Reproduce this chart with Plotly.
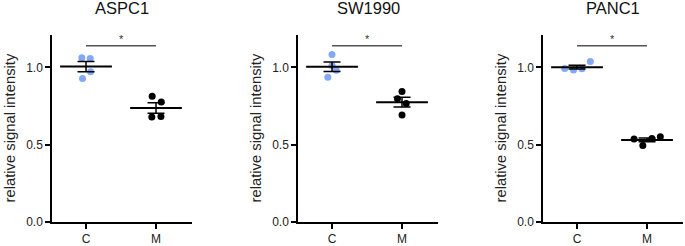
import plotly.graph_objects as go
import numpy as np

W, H = 685, 246

panels = ["ASPC1", "SW1990", "PANC1"]
groups = ["C", "M"]

# values (relative signal intensity)
aspc1_c = [1.063, 1.058, 0.972, 0.929]
aspc1_m = [0.814, 0.777, 0.680, 0.682]
sw1990_c = [1.084, 1.013, 0.982, 0.937]
sw1990_m = [0.845, 0.797, 0.767, 0.693]
panc1_c = [0.994, 0.983, 0.992, 1.039]
panc1_m = [0.537, 0.495, 0.540, 0.552]

# horizontal spread of the dots (category units)
aspc1_c_off = [-0.06, 0.06, 0.065, -0.05]
aspc1_m_off = [-0.055, 0.075, -0.06, 0.07]
sw1990_c_off = [0.0, 0.0, 0.06, -0.06]
sw1990_m_off = [0.0, -0.065, 0.06, 0.0]
panc1_c_off = [-0.175, -0.05, 0.07, 0.19]
panc1_m_off = [-0.185, -0.06, 0.07, 0.19]

data = [
    (aspc1_c, aspc1_m, aspc1_c_off, aspc1_m_off),
    (sw1990_c, sw1990_m, sw1990_c_off, sw1990_m_off),
    (panc1_c, panc1_m, panc1_c_off, panc1_m_off),
]

yticks = [0.0, 0.5, 1.0]
sig_y = 1.14
star_y = 1.185

blue = "#82A9F6"
colors = [blue, "#000000"]
font_family = "Liberation Sans, Arial, sans-serif"

# panel pixel geometry
axis_left_px = [52, 298, 543]
axis_w_px = 140
y_top_px, y_bot_px = 35, 222

fig = go.Figure()

for i, (name, (cv, mv, co, mo)) in enumerate(zip(panels, data)):
    xa = "x" if i == 0 else f"x{i+1}"
    ya = "y" if i == 0 else f"y{i+1}"
    for g, (vals, offs) in enumerate([(cv, co), (mv, mo)]):
        vals = np.array(vals)
        fig.add_trace(go.Scatter(
            x=[g + o for o in offs], y=vals, mode="markers",
            marker=dict(color=colors[g], size=7, line=dict(width=0)),
            xaxis=xa, yaxis=ya, showlegend=False, hoverinfo="y"))
        mean = vals.mean()
        sem = vals.std(ddof=1) / np.sqrt(len(vals))
        fig.add_trace(go.Scatter(
            x=[g], y=[mean], mode="markers",
            marker=dict(symbol="line-ew", size=37, color="black",
                        line=dict(width=2, color="black")),
            error_y=dict(type="data", array=[sem], visible=True,
                         color="black", thickness=1.5, width=8.5),
            xaxis=xa, yaxis=ya, showlegend=False, hoverinfo="skip"))
    # significance bracket
    fig.add_shape(type="line", x0=0, x1=1, y0=sig_y, y1=sig_y,
                  xref=xa, yref=ya, line=dict(color="#555555", width=1.5))
    fig.add_annotation(x=0.5, y=star_y, xref=xa, yref=ya, text="*",
                       showarrow=False, font=dict(size=11, color="#333333", family=font_family))

    x0 = axis_left_px[i] / W
    x1 = (axis_left_px[i] + axis_w_px) / W
    axcommon = dict(showline=True, linecolor="black", linewidth=1.5,
                    ticks="outside", ticklen=5, tickwidth=1.5, tickcolor="black",
                    showgrid=False, zeroline=False, automargin=False,
                    tickfont=dict(size=12, color="#222222", family=font_family))
    fig.update_layout(**{
        ("xaxis" if i == 0 else f"xaxis{i+1}"): dict(
            domain=[x0, x1], range=[-0.486, 1.514],
            tickvals=[0, 1], ticktext=groups, anchor=ya, **axcommon),
        ("yaxis" if i == 0 else f"yaxis{i+1}"): dict(
            domain=[(H - y_bot_px) / H, (H - y_top_px) / H], range=[0, 1.21],
            tickvals=yticks, tickformat=".1f", anchor=xa, **axcommon),
    })
    # panel title
    fig.add_annotation(x=(x0 + x1) / 2, y=(H - 8.5) / H, xref="paper", yref="paper",
                       text=name, showarrow=False, xanchor="center", yanchor="middle",
                       font=dict(size=16.5, color="#111111", family=font_family))
    # y-axis title
    fig.add_annotation(x=(axis_left_px[i] - 43) / W, y=(H - 128.5) / H,
                       xref="paper", yref="paper", text="relative signal intensity",
                       textangle=-90, showarrow=False, xanchor="center", yanchor="middle",
                       font=dict(size=14.8, color="#222222", family=font_family))

fig.update_layout(width=W, height=H, margin=dict(l=0, r=0, t=0, b=0, autoexpand=False),
                  paper_bgcolor="white", plot_bgcolor="white",
                  font=dict(family=font_family))

fig.write_html("out.html", config={"displayModeBar": False},
               post_script="document.body.style.margin='0';document.body.style.overflow='hidden';")
